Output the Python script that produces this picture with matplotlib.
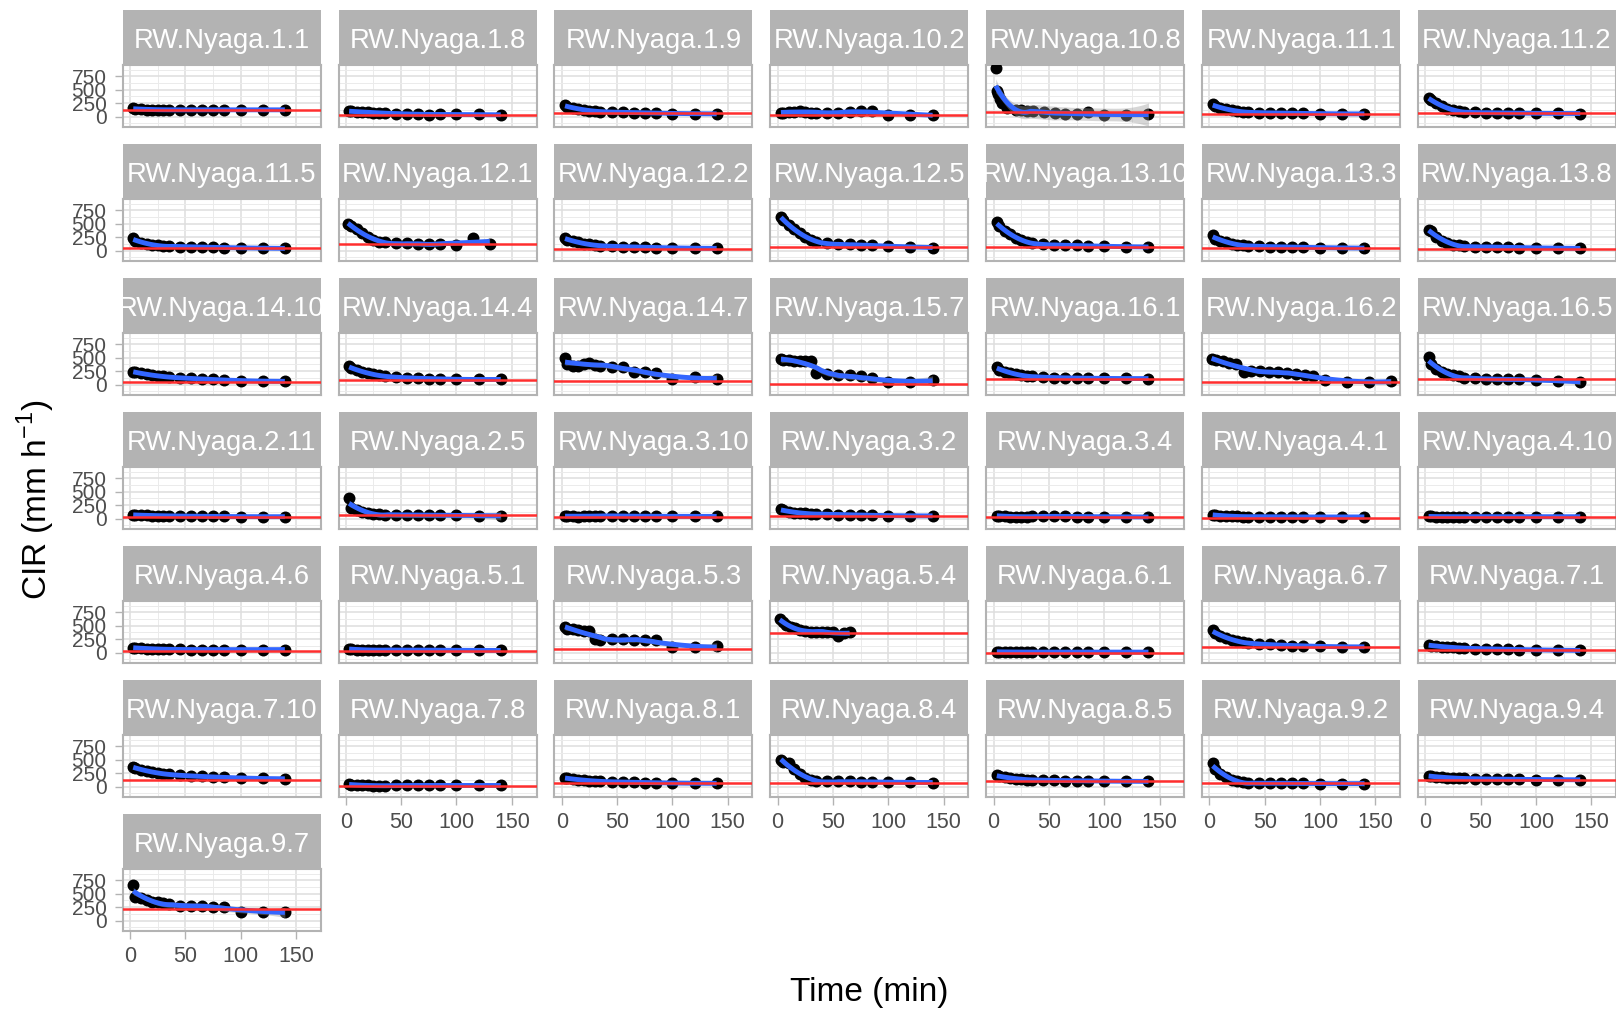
import numpy as np
import matplotlib
matplotlib.use("Agg")
import matplotlib.pyplot as plt

plt.rcParams['font.family'] = ['Liberation Sans', 'DejaVu Sans']
plt.rcParams['mathtext.fontset'] = 'custom'
plt.rcParams['mathtext.rm'] = 'Liberation Sans'

# ---------------- data ----------------
sites = ["RW.Nyaga.1.1", "RW.Nyaga.1.8", "RW.Nyaga.1.9", "RW.Nyaga.10.2", "RW.Nyaga.10.8",
         "RW.Nyaga.11.1", "RW.Nyaga.11.2", "RW.Nyaga.11.5", "RW.Nyaga.12.1", "RW.Nyaga.12.2",
         "RW.Nyaga.12.5", "RW.Nyaga.13.10", "RW.Nyaga.13.3", "RW.Nyaga.13.8", "RW.Nyaga.14.10",
         "RW.Nyaga.14.4", "RW.Nyaga.14.7", "RW.Nyaga.15.7", "RW.Nyaga.16.1", "RW.Nyaga.16.2",
         "RW.Nyaga.16.5", "RW.Nyaga.2.11", "RW.Nyaga.2.5", "RW.Nyaga.3.10", "RW.Nyaga.3.2",
         "RW.Nyaga.3.4", "RW.Nyaga.4.1", "RW.Nyaga.4.10", "RW.Nyaga.4.6", "RW.Nyaga.5.1",
         "RW.Nyaga.5.3", "RW.Nyaga.5.4", "RW.Nyaga.6.1", "RW.Nyaga.6.7", "RW.Nyaga.7.1",
         "RW.Nyaga.7.10", "RW.Nyaga.7.8", "RW.Nyaga.8.1", "RW.Nyaga.8.4", "RW.Nyaga.8.5",
         "RW.Nyaga.9.2", "RW.Nyaga.9.4", "RW.Nyaga.9.7"]

# horizontal reference line (red) per site
hline_cir = [125, 25, 69, 25, 86, 56, 69,
             50, 130, 37, 75, 75, 50, 37,
             44, 87, 75, 6, 112, 44, 94,
             25, 62, 25, 50, 25, 19, 25,
             37, 37, 75, 369, 0, 94, 56,
             125, 6, 62, 62, 100, 62, 125,
             212]

time_std = [3, 5, 10, 15, 20, 25, 30, 35, 45, 55, 65, 75, 85, 100, 120, 140]
time_10_8 = [2, 3, 4, 6, 8, 12, 20, 25, 30, 36, 46, 56, 65, 75, 85, 100, 120, 140]
time_12_1 = [2, 5, 10, 15, 20, 25, 30, 35, 45, 55, 65, 75, 85, 100, 115, 130]
time_16_2 = [2, 6, 12, 18, 24, 31, 38, 46, 54, 62, 70, 78, 86, 94, 104, 124, 144, 164]
time_5_4 = [2, 5, 8, 12, 16, 20, 25, 30, 35, 40, 45, 50, 55, 60, 65]

cir_1_1 = [150, 140, 135, 130, 130, 130, 125, 125, 125, 125, 125, 125, 125, 125, 125, 125]
cir_1_8 = [100, 95, 90, 85, 80, 75, 70, 60, 55, 50, 45, 35, 40, 40, 40, 30]
cir_1_9 = [210, 180, 160, 140, 125, 110, 100, 90, 85, 80, 75, 70, 65, 55, 55, 50]
cir_10_2 = [70, 75, 80, 85, 110, 90, 75, 70, 70, 75, 80, 105, 100, 35, 30, 35]
cir_10_8 = [900, 480, 420, 330, 260, 150, 130, 120, 110, 100, 90, 60, 45, 45, 80, 30, 30, 40]
cir_11_1 = [230, 190, 160, 135, 115, 100, 90, 80, 75, 70, 65, 60, 60, 55, 50, 50]
cir_11_2 = [350, 310, 250, 190, 140, 115, 100, 90, 80, 75, 70, 65, 65, 60, 60, 55]
cir_11_5 = [240, 180, 140, 115, 100, 95, 90, 80, 75, 70, 65, 60, 55, 50, 45, 40]
cir_12_1 = [500, 450, 410, 330, 260, 200, 165, 150, 140, 135, 130, 120, 115, 110, 240, 130]
cir_12_2 = [240, 200, 170, 150, 130, 115, 100, 90, 80, 75, 70, 60, 55, 50, 45, 40]
cir_12_5 = [630, 560, 480, 400, 330, 260, 200, 160, 140, 125, 115, 105, 100, 80, 70, 55]
cir_13_10 = [530, 450, 370, 300, 240, 190, 160, 140, 120, 110, 100, 95, 90, 80, 75, 65]
cir_13_3 = [290, 220, 180, 150, 130, 110, 100, 90, 80, 75, 70, 65, 60, 55, 50, 45]
cir_13_8 = [380, 370, 260, 180, 140, 110, 95, 85, 75, 70, 65, 60, 55, 50, 45, 40]
cir_14_10 = [240, 225, 210, 190, 175, 160, 150, 140, 125, 115, 105, 95, 85, 70, 65, 60]
cir_14_4 = [340, 300, 270, 240, 210, 190, 170, 150, 140, 130, 120, 110, 105, 100, 95, 95]
cir_14_7 = [490, 380, 350, 350, 390, 410, 370, 350, 330, 330, 240, 230, 220, 110, 140, 110]
cir_15_7 = [470, 450, 450, 445, 440, 440, 430, 210, 200, 180, 170, 150, 120, 50, 50, 80]
cir_16_1 = [330, 280, 240, 210, 190, 170, 160, 150, 140, 130, 125, 120, 120, 115, 115, 110]
cir_16_2 = [470, 450, 430, 410, 390, 240, 260, 255, 240, 230, 215, 200, 180, 150, 80, 55, 50, 60]
cir_16_5 = [510, 380, 290, 230, 190, 170, 150, 130, 120, 110, 100, 95, 95, 90, 70, 50]
cir_2_11 = [70, 65, 60, 60, 55, 55, 50, 50, 45, 45, 40, 40, 40, 35, 35, 35]
cir_2_5 = [380, 200, 150, 120, 100, 90, 80, 75, 70, 70, 65, 65, 60, 60, 55, 50]
cir_3_10 = [50, 45, 40, 35, 40, 45, 50, 50, 45, 45, 45, 40, 40, 45, 40, 40]
cir_3_2 = [170, 150, 130, 110, 100, 95, 90, 85, 80, 75, 70, 65, 60, 55, 50, 50]
cir_3_4 = [55, 50, 40, 35, 35, 30, 35, 40, 40, 40, 40, 35, 35, 35, 30, 30]
cir_4_1 = [70, 65, 55, 45, 40, 40, 35, 35, 35, 35, 30, 30, 30, 30, 30, 30]
cir_4_10 = [40, 38, 36, 35, 35, 34, 35, 36, 35, 34, 35, 35, 34, 35, 35, 34]
cir_4_6 = [90, 85, 80, 75, 70, 65, 60, 60, 60, 55, 55, 55, 55, 55, 55, 55]
cir_5_1 = [75, 60, 50, 45, 45, 50, 50, 45, 45, 45, 45, 45, 45, 40, 40, 40]
cir_5_3 = [470, 445, 430, 415, 405, 395, 250, 240, 260, 250, 240, 235, 230, 95, 95, 120]
cir_5_4 = [620, 560, 520, 480, 450, 420, 400, 390, 390, 390, 390, 390, 300, 360, 380]
cir_6_1 = [15, 12, 10, 10, 10, 8, 8, 8, 8, 8, 8, 8, 8, 8, 8, 8]
cir_6_7 = [420, 360, 310, 270, 240, 210, 195, 180, 160, 150, 140, 130, 125, 115, 110, 105]
cir_7_1 = [140, 130, 120, 110, 100, 95, 90, 80, 75, 70, 65, 60, 55, 50, 45, 40]
cir_7_10 = [370, 340, 310, 290, 270, 255, 240, 225, 210, 200, 190, 180, 170, 160, 150, 145]
cir_7_8 = [40, 35, 30, 25, 20, 15, 15, 15, 20, 20, 20, 20, 20, 20, 20, 20]
cir_8_1 = [160, 150, 140, 130, 120, 110, 100, 95, 90, 85, 80, 75, 70, 65, 60, 60]
cir_8_4 = [490, 450, 430, 330, 230, 160, 120, 110, 100, 100, 95, 90, 85, 80, 80, 75]
cir_8_5 = [210, 190, 170, 155, 145, 135, 130, 125, 120, 115, 110, 110, 105, 100, 100, 95]
cir_9_2 = [440, 330, 240, 170, 120, 95, 80, 75, 70, 65, 60, 60, 60, 55, 55, 55]
cir_9_4 = [200, 190, 180, 170, 165, 160, 155, 150, 145, 140, 140, 135, 135, 130, 130, 125]
cir_9_7 = [660, 440, 420, 380, 350, 340, 320, 300, 280, 270, 270, 260, 250, 160, 160, 160]

series = {
    "RW.Nyaga.1.1": (time_std, cir_1_1), "RW.Nyaga.1.8": (time_std, cir_1_8),
    "RW.Nyaga.1.9": (time_std, cir_1_9), "RW.Nyaga.10.2": (time_std, cir_10_2),
    "RW.Nyaga.10.8": (time_10_8, cir_10_8), "RW.Nyaga.11.1": (time_std, cir_11_1),
    "RW.Nyaga.11.2": (time_std, cir_11_2), "RW.Nyaga.11.5": (time_std, cir_11_5),
    "RW.Nyaga.12.1": (time_12_1, cir_12_1), "RW.Nyaga.12.2": (time_std, cir_12_2),
    "RW.Nyaga.12.5": (time_std, cir_12_5), "RW.Nyaga.13.10": (time_std, cir_13_10),
    "RW.Nyaga.13.3": (time_std, cir_13_3), "RW.Nyaga.13.8": (time_std, cir_13_8),
    "RW.Nyaga.14.10": (time_std, cir_14_10), "RW.Nyaga.14.4": (time_std, cir_14_4),
    "RW.Nyaga.14.7": (time_std, cir_14_7), "RW.Nyaga.15.7": (time_std, cir_15_7),
    "RW.Nyaga.16.1": (time_std, cir_16_1), "RW.Nyaga.16.2": (time_16_2, cir_16_2),
    "RW.Nyaga.16.5": (time_std, cir_16_5), "RW.Nyaga.2.11": (time_std, cir_2_11),
    "RW.Nyaga.2.5": (time_std, cir_2_5), "RW.Nyaga.3.10": (time_std, cir_3_10),
    "RW.Nyaga.3.2": (time_std, cir_3_2), "RW.Nyaga.3.4": (time_std, cir_3_4),
    "RW.Nyaga.4.1": (time_std, cir_4_1), "RW.Nyaga.4.10": (time_std, cir_4_10),
    "RW.Nyaga.4.6": (time_std, cir_4_6), "RW.Nyaga.5.1": (time_std, cir_5_1),
    "RW.Nyaga.5.3": (time_std, cir_5_3), "RW.Nyaga.5.4": (time_5_4, cir_5_4),
    "RW.Nyaga.6.1": (time_std, cir_6_1), "RW.Nyaga.6.7": (time_std, cir_6_7),
    "RW.Nyaga.7.1": (time_std, cir_7_1), "RW.Nyaga.7.10": (time_std, cir_7_10),
    "RW.Nyaga.7.8": (time_std, cir_7_8), "RW.Nyaga.8.1": (time_std, cir_8_1),
    "RW.Nyaga.8.4": (time_std, cir_8_4), "RW.Nyaga.8.5": (time_std, cir_8_5),
    "RW.Nyaga.9.2": (time_std, cir_9_2), "RW.Nyaga.9.4": (time_std, cir_9_4),
    "RW.Nyaga.9.7": (time_std, cir_9_7),
}

x_ticks = [0, 50, 100, 150]
y_ticks = [0, 250, 500, 750]


# ---------------- loess (degree 2, span 0.75) ----------------
def loess_fit(x, y, xnew, span=0.75):
    x = np.asarray(x, float)
    y = np.asarray(y, float)
    n = len(x)
    q = int(np.floor(n * span))

    def weights_row(x0):
        d = np.abs(x - x0)
        h = np.sort(d)[q - 1] * 1.0000001
        u = np.clip(d / h, 0, 1)
        w = (1 - u ** 3) ** 3
        X = np.column_stack([np.ones(n), x - x0, (x - x0) ** 2])
        XtW = X.T * w
        A = XtW @ X
        return np.linalg.solve(A, XtW)[0]

    L = np.array([weights_row(xi) for xi in x])
    res = y - L @ y
    IL = np.eye(n) - L
    M = IL.T @ IL
    one_delta = np.trace(M)
    two_delta = np.trace(M @ M)
    sigma = np.sqrt(np.sum(res ** 2) / one_delta)
    df = one_delta ** 2 / two_delta
    z = 1.959964
    g1 = (z ** 3 + z) / 4
    g2 = (5 * z ** 5 + 16 * z ** 3 + 3 * z) / 96
    g3 = (3 * z ** 7 + 19 * z ** 5 + 17 * z ** 3 - 15 * z) / 384
    g4 = (79 * z ** 9 + 776 * z ** 7 + 1482 * z ** 5 - 1920 * z ** 3 - 945 * z) / 92160
    tq = z + g1 / df + g2 / df ** 2 + g3 / df ** 3 + g4 / df ** 4
    Ln = np.array([weights_row(x0) for x0 in xnew])
    fit = Ln @ y
    se = sigma * np.sqrt(np.sum(Ln ** 2, axis=1))
    return fit, fit - tq * se, fit + tq * se


# ---------------- layout ----------------
W, H = 1616, 1014
fig = plt.figure(figsize=(W / 100, H / 100), dpi=100)


def rect(x0, y0, x1, y1):
    return [x0 / W, 1 - y1 / H, (x1 - x0) / W, (y1 - y0) / H]


col_left = [122.6 + 215.9 * c for c in range(7)]
panel_w = 198.0
strip_top0, strip_h, plot_h, row_pitch = 10.0, 55.0, 62.0, 134.0

XLIM = (-6.6, 172.3)
YLIM = (-195, 960)
GRID_MAJ = '#DEDEDE'
GRID_MIN = '#EBEBEB'
BORDER = '#B3B3B3'
TXT = '#4D4D4D'

for i, site in enumerate(sites):
    r, c = divmod(i, 7)
    xl = col_left[c]
    st = strip_top0 + row_pitch * r
    pt = st + strip_h
    pb = pt + plot_h

    # strip
    sax = fig.add_axes(rect(xl, st, xl + panel_w, pt))
    sax.set_facecolor('#B3B3B3')
    for s in sax.spines.values():
        s.set_visible(False)
    sax.set_xticks([]); sax.set_yticks([])
    sax.text(0.5, 0.30, site, color='white', fontsize=19.7, ha='center', va='baseline',
             transform=sax.transAxes, clip_on=True)

    # panel
    ax = fig.add_axes(rect(xl, pt, xl + panel_w, pb))
    ax.set_xlim(*XLIM)
    ax.set_ylim(*YLIM)
    ax.set_xticks(x_ticks)
    ax.set_xticks([25, 75, 125], minor=True)
    ax.set_yticks(y_ticks)
    ax.set_yticks([-125, 125, 375, 625, 875], minor=True)
    ax.grid(True, which='major', color=GRID_MAJ, lw=1.1, zorder=0)
    ax.grid(True, which='minor', color=GRID_MIN, lw=0.7, zorder=0)
    ax.set_axisbelow(True)
    for s in ax.spines.values():
        s.set_color(BORDER)
        s.set_linewidth(1.5)
    ax.tick_params(which='minor', length=0)
    bottom_of_col = (r == 6) or (r == 5 and c > 0)
    ax.tick_params(axis='x', which='major', length=6 if bottom_of_col else 0,
                   color=BORDER, width=1.0, labelsize=15.5, labelcolor=TXT, pad=5,
                   labelbottom=bottom_of_col)
    ax.tick_params(axis='y', which='major', length=6 if c == 0 else 0,
                   color=BORDER, width=1.0, labelsize=15, labelcolor=TXT, pad=5.5,
                   labelleft=(c == 0))

    t, v = series[site]
    t = np.asarray(t, float)
    v = np.asarray(v, float)
    ax.scatter(t, v, s=74, color='black', zorder=3, linewidths=0)
    xs = np.linspace(t.min(), t.max(), 80)
    fit, lo, hi = loess_fit(t, v, xs)
    ax.fill_between(xs, lo, hi, color='#999999', alpha=0.4, lw=0, zorder=4)
    ax.plot(xs, fit, color='#3366FF', lw=3.5, zorder=5, solid_capstyle='butt')
    ax.axhline(hline_cir[i], color='#FF2E2E', lw=1.8, zorder=6)

fig.text(869 / W, 1 - 992 / H, 'Time (min)', fontsize=24, ha='center', va='center')
fig.text(36 / W, 1 - 500 / H, r'CIR (mm h$^{\mathregular{-1}}$)', fontsize=24,
         ha='center', va='center', rotation=90)

fig.savefig('out.png', dpi=100)
